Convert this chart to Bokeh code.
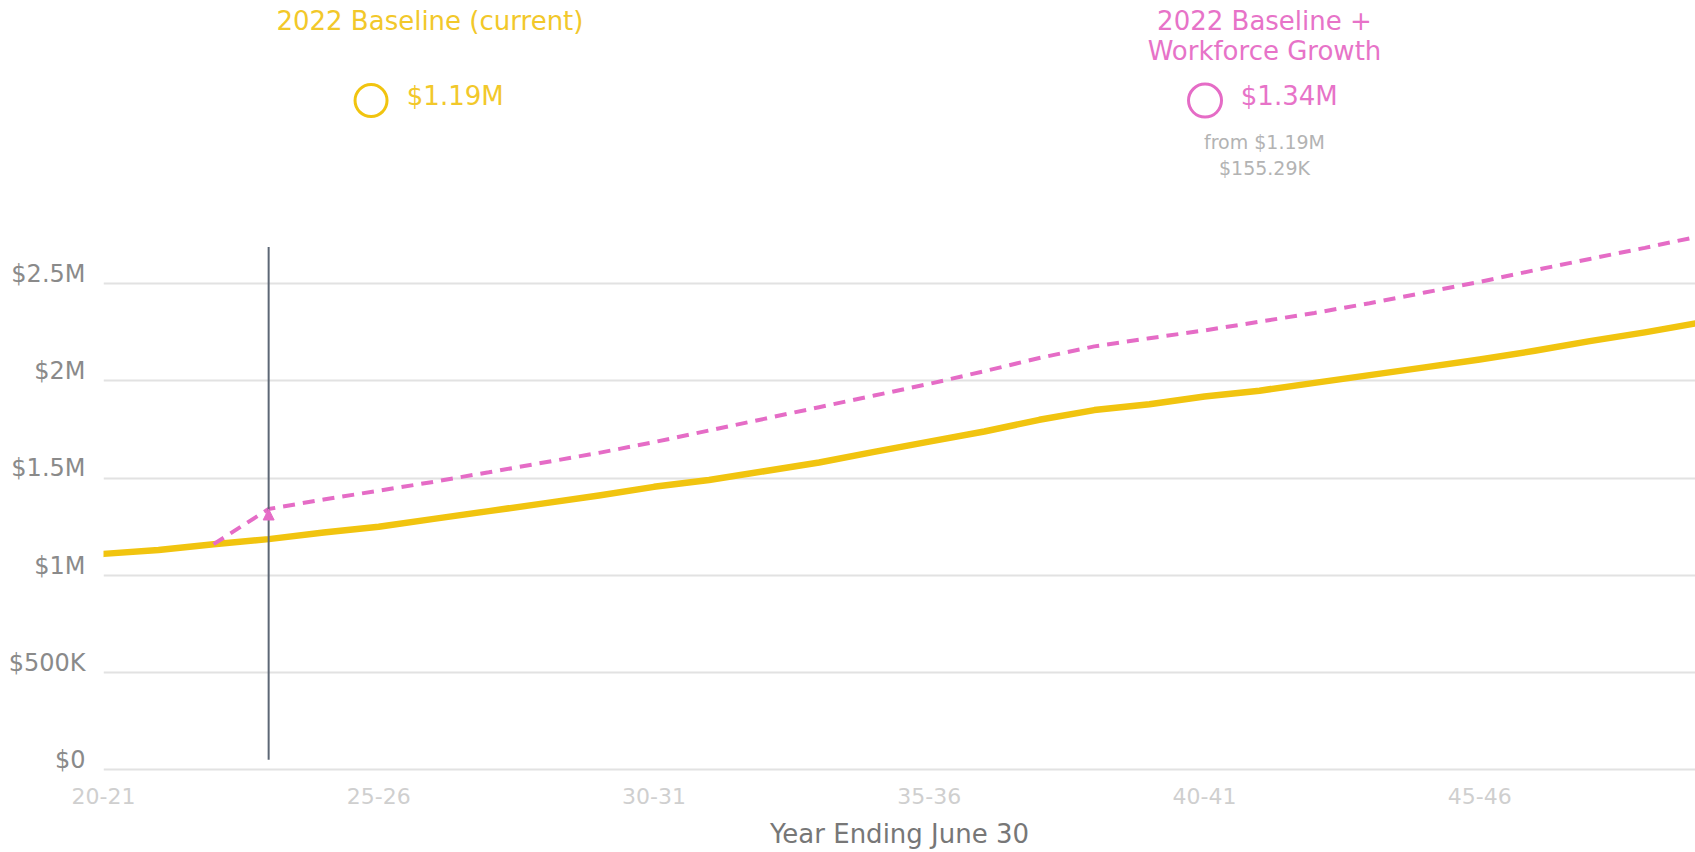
from bokeh.plotting import figure
from bokeh.models import FixedTicker, Label, Arrow, NormalHead, Range1d
from bokeh.embed import file_html
from bokeh.resources import INLINE

# ---------------- data ----------------
years = ["20-21", "21-22", "22-23", "23-24", "24-25", "25-26", "26-27", "27-28",
         "28-29", "29-30", "30-31", "31-32", "32-33", "33-34", "34-35", "35-36",
         "36-37", "37-38", "38-39", "39-40", "40-41", "41-42", "42-43", "43-44",
         "44-45", "45-46", "46-47", "47-48", "48-49", "49-50"]

# 2022 Baseline (current), $ thousands
baseline = [1110, 1130, 1160, 1186, 1220, 1250, 1290, 1330, 1370, 1410,
            1455, 1490, 1535, 1580, 1635, 1688, 1740, 1800, 1850, 1880,
            1920, 1950, 1990, 2030, 2070, 2110, 2155, 2205, 2250, 2300]

# 2022 Baseline + Workforce Growth, $ thousands (starts at 22-23)
workforce_start = 2
workforce = [1160, 1341, 1390, 1435, 1481, 1530, 1580, 1630, 1685, 1745,
             1805, 1865, 1925, 1985, 2050, 2118, 2178, 2220, 2260, 2305,
             2350, 2400, 2455, 2510, 2570, 2628, 2685, 2745]

current_index = 3            # 23-24
marker_low, marker_high = 50, 2690

y_ticks = [0, 500, 1000, 1500, 2000, 2500]
y_tick_labels = ["$0", "$500K", "$1M", "$1.5M", "$2M", "$2.5M"]
x_ticks = [0, 5, 10, 15, 20, 25]

series1_name = "2022 Baseline (current)"
series2_name = ["2022 Baseline +", "Workforce Growth"]
series1_value = "$1.19M"
series2_value = "$1.34M"
series2_from = "from $1.19M"
series2_diff = "$155.29K"

# ---------------- style ----------------
YELLOW = "#f1c40f"
YELLOW_TEXT = "#f2c82a"
PINK = "#e56cc6"
PINK_TEXT = "#e773c8"
FONT = "DejaVu Sans"
label_lift = 50   # tick labels sit just above their gridline

p = figure(frame_width=1592, frame_height=771,
           x_range=Range1d(0, 28.92), y_range=Range1d(-10, 3958),
           output_backend="svg", toolbar_location=None,
           min_border_left=103, min_border_right=0, min_border_top=0, min_border_bottom=0,
           outline_line_color=None, background_fill_color="white",
           border_fill_color="white")

# grid
p.xgrid.grid_line_color = None
p.ygrid.ticker = FixedTicker(ticks=y_ticks)
p.ygrid.grid_line_color = "#e2e2e2"
p.ygrid.grid_line_width = 2

# y axis
p.yaxis.ticker = FixedTicker(ticks=[v + label_lift for v in y_ticks])
p.yaxis.major_label_overrides = {v + label_lift: lab for v, lab in zip(y_ticks, y_tick_labels)}
p.yaxis.axis_line_color = None
p.yaxis.major_tick_line_color = None
p.yaxis.minor_tick_line_color = None
p.yaxis.major_label_standoff = 12
p.yaxis.major_label_text_font = FONT
p.yaxis.major_label_text_font_size = "24px"
p.yaxis.major_label_text_color = "#8a8a8a"

# x axis
p.xaxis.ticker = FixedTicker(ticks=x_ticks)
p.xaxis.major_label_overrides = {i: years[i] for i in x_ticks}
p.xaxis.axis_line_color = None
p.xaxis.major_tick_line_color = None
p.xaxis.minor_tick_line_color = None
p.xaxis.major_label_standoff = 10
p.xaxis.major_label_text_font = FONT
p.xaxis.major_label_text_font_size = "22px"
p.xaxis.major_label_text_color = "#cfcfcf"
p.xaxis.axis_label = "Year Ending June 30"
p.xaxis.axis_label_text_font = FONT
p.xaxis.axis_label_text_font_size = "26px"
p.xaxis.axis_label_text_font_style = "normal"
p.xaxis.axis_label_text_color = "#777777"
p.xaxis.axis_label_standoff = 12

# series
xs = list(range(len(years)))
p.line(xs, baseline, line_color=YELLOW, line_width=6.5, line_join="round", line_cap="round")
p.line(list(range(workforce_start, workforce_start + len(workforce))), workforce,
       line_color=PINK, line_width=4, line_dash="12 8")

# current-year marker
p.segment(x0=[current_index], y0=[marker_low], x1=[current_index], y1=[marker_high],
          line_color="#5d6775", line_width=2)
p.add_layout(Arrow(end=NormalHead(size=11, fill_color=PINK, line_color=PINK, line_width=1),
                   x_start=current_index, y_start=baseline[current_index],
                   x_end=current_index, y_end=workforce[current_index - workforce_start],
                   line_alpha=0))

# legend cards above the chart
card1_x, card2_x = 5.93, 21.09
title_y, title2_y, value_y, circle_y, from_y, diff_y = 3854, 3697, 3464, 3443, 3229, 3095


def card_text(x, y, text, color, size):
    p.add_layout(Label(x=x, y=y, text=text, text_align="center",
                       text_baseline="alphabetic", text_font=FONT,
                       text_font_size=size, text_color=color))


card_text(card1_x, title_y, series1_name, YELLOW_TEXT, "26px")
p.scatter([4.86], [circle_y], marker="circle", size=32, fill_color=None,
          line_color=YELLOW, line_width=3)
card_text(6.39, value_y, series1_value, YELLOW_TEXT, "26px")

card_text(card2_x, title_y, series2_name[0], PINK_TEXT, "26px")
card_text(card2_x, title2_y, series2_name[1], PINK_TEXT, "26px")
p.scatter([20.01], [circle_y], marker="circle", size=33, fill_color=None,
          line_color=PINK, line_width=3)
card_text(21.54, value_y, series2_value, PINK_TEXT, "26px")
card_text(card2_x, from_y, series2_from, "#b3b3b3", "19px")
card_text(card2_x, diff_y, series2_diff, "#b3b3b3", "19px")

open("out.html", "w").write(file_html(p, INLINE))
